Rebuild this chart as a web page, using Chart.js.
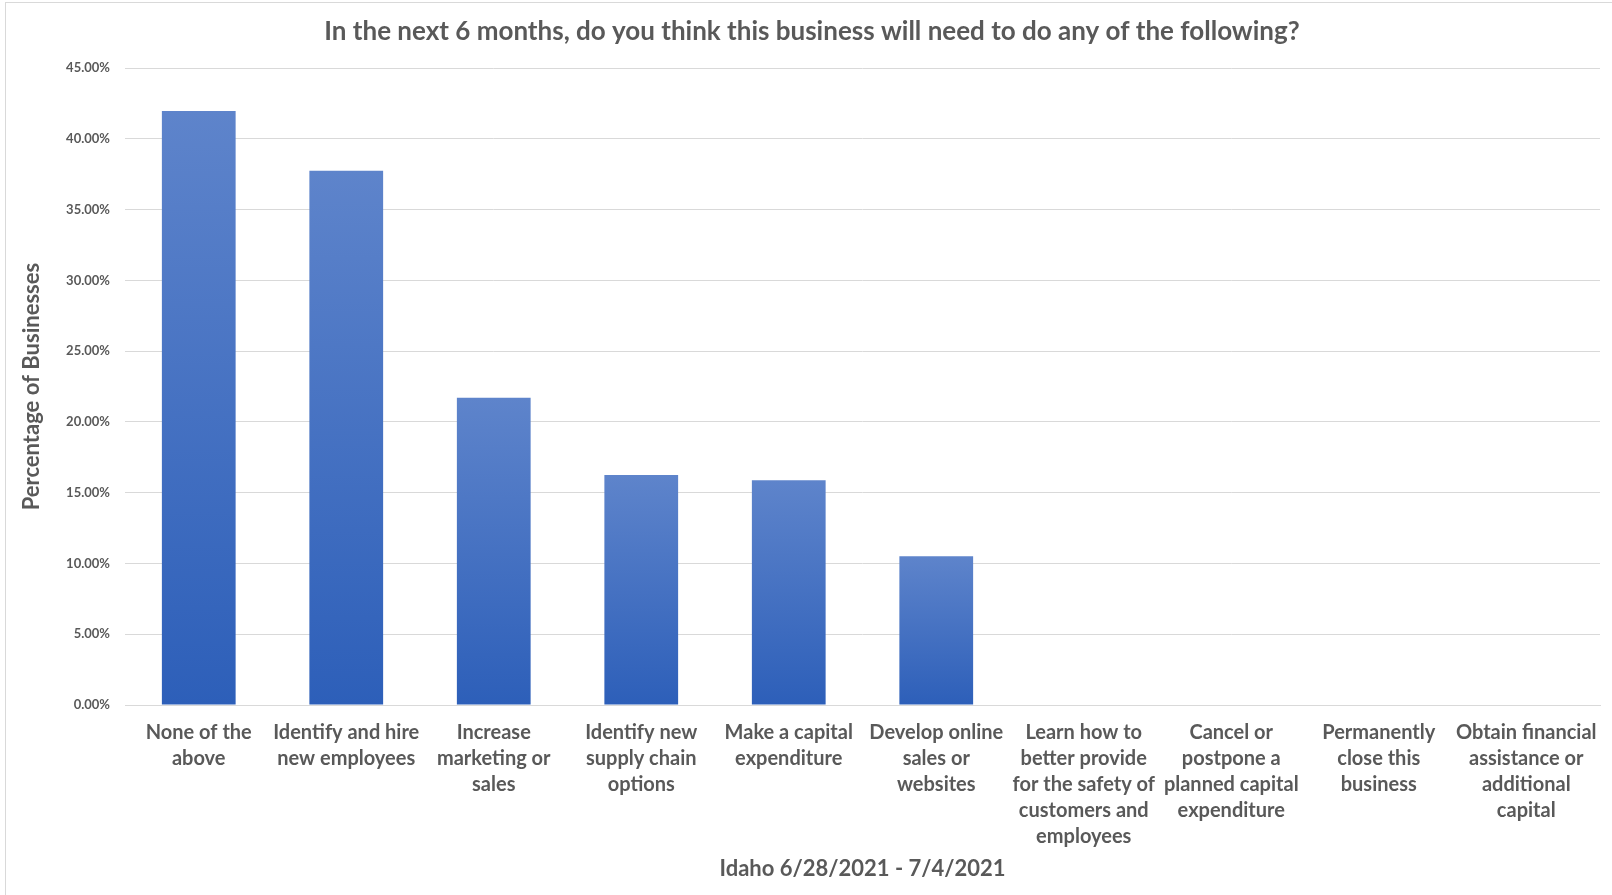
<!DOCTYPE html>
<html>
<head>
<meta charset="utf-8">
<script src="https://cdn.jsdelivr.net/npm/chart.js@4.4.1/dist/chart.umd.min.js"></script>
<style>
  html, body { margin: 0; padding: 0; background: #ffffff; overflow: hidden; }
  #wrap { position: relative; width: 1612px; height: 895px; }
  #frame { position: absolute; left: 5px; top: 2px; width: 1620px; height: 900px; border: 1px solid #d9d9d9; box-sizing: border-box; pointer-events: none; }
  canvas { position: absolute; left: 0; top: 0; }
</style>
</head>
<body>
<div id="wrap">
  <canvas id="c" width="1612" height="895"></canvas>
  <div id="frame"></div>
</div>
<script>
const chartTitle = "In the next 6 months, do you think this business will need to do any of the following?";
const xAxisTitle = "Idaho 6/28/2021 - 7/4/2021";
const yAxisTitle = "Percentage of Businesses";
const categories = [
  ["None of the", "above"],
  ["Identify and hire", "new employees"],
  ["Increase", "marketing or", "sales"],
  ["Identify new", "supply chain", "options"],
  ["Make a capital", "expenditure"],
  ["Develop online", "sales or", "websites"],
  ["Learn how to", "better provide", "for the safety of", "customers and", "employees"],
  ["Cancel or", "postpone a", "planned capital", "expenditure"],
  ["Permanently", "close this", "business"],
  ["Obtain financial", "assistance or", "additional", "capital"]
];
const percentages = [41.98, 37.76, 21.72, 16.25, 15.88, 10.52, 0, 0, 0, 0];
const yTicks = [0, 5, 10, 15, 20, 25, 30, 35, 40, 45];

const FONT = "Lato";
const TEXT = "#595959";

function barGradient(ctx) {
  const chart = ctx.chart;
  const area = chart.chartArea;
  if (!area || ctx.type !== 'data') return '#3f6fc4';
  const y = chart.scales.y;
  const top = y.getPixelForValue(ctx.parsed.y);
  const bottom = area.bottom;
  if (!(bottom > top)) return '#3f6fc4';
  const g = chart.ctx.createLinearGradient(0, top, 0, bottom);
  g.addColorStop(0, '#5e84cb');
  g.addColorStop(1, '#2d5fb9');
  return g;
}

const shiftTitle = {
  id: 'shiftTitle',
  afterLayout(chart) {
    const t = chart.titleBlock;
    if (t) { t.left += 12; t.right += 12; }
  }
};

new Chart(document.getElementById('c'), {
  type: 'bar',
  data: {
    labels: categories,
    datasets: [{
      data: percentages,
      backgroundColor: barGradient,
      borderWidth: 0,
      barPercentage: 0.5,
      categoryPercentage: 1.0
    }]
  },
  plugins: [shiftTitle],
  options: {
    responsive: false,
    animation: false,
    layout: { padding: { left: 0, right: 12, top: 0, bottom: 0 } },
    plugins: {
      legend: { display: false },
      tooltip: { enabled: false },
      title: {
        display: true,
        text: chartTitle,
        color: TEXT,
        font: { family: FONT, size: 26, weight: 'bold' },
        padding: { top: 16, bottom: 21 }
      }
    },
    scales: {
      x: {
        grid: { display: false, drawTicks: false },
        border: { display: true, color: '#d9d9d9' },
        ticks: {
          color: TEXT,
          font: { family: FONT, size: 20, weight: 'bold', lineHeight: 1.31 },
          padding: 14,
          maxRotation: 0,
          minRotation: 0,
          autoSkip: false
        },
        title: {
          display: true,
          text: xAxisTitle,
          color: TEXT,
          font: { family: FONT, size: 22, weight: 'bold' },
          padding: { top: 0, bottom: 13 }
        },
        afterFit(scale) { scale.height = 190; }
      },
      y: {
        min: 0,
        max: 45,
        afterBuildTicks(scale) { scale.ticks = yTicks.map(v => ({ value: v })); },
        grid: { color: '#d9d9d9', lineWidth: 1, drawTicks: false },
        border: { display: false },
        ticks: {
          color: TEXT,
          font: { family: FONT, size: 13, weight: 'bold' },
          padding: 15,
          callback: v => v.toFixed(2) + '%'
        },
        title: {
          display: true,
          text: yAxisTitle,
          color: TEXT,
          font: { family: FONT, size: 22, weight: 'bold' },
          padding: { top: 19, bottom: 0 }
        },
        afterFit(scale) { scale.width = 125; }
      }
    }
  }
});
</script>
</body>
</html>
